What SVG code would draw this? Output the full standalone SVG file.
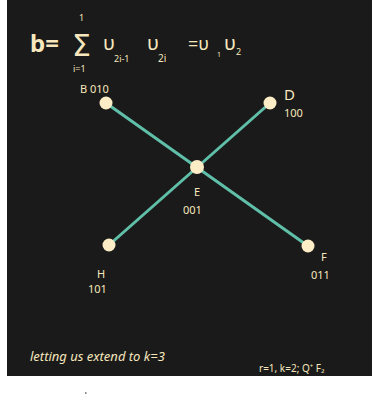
<svg xmlns="http://www.w3.org/2000/svg" width="376" height="395" viewBox="0 0 376 395">
<style>
.t{fill:#f6e7bd;font-family:"Noto Sans",sans-serif}
.e{stroke:#5fbfa8;stroke-width:3;stroke-linecap:round}
.n{fill:#fcedc6}
</style>
<rect width="376" height="395" fill="#ffffff"/>
<rect x="7" y="0" width="365" height="376" fill="#1a1a1a"/>
<g id="formula">
<text class="t" x="30" y="52" font-size="24" font-weight="bold">b=</text>
<text class="t" x="79" y="21" font-size="9">1</text>
<text class="t" x="72" y="56" font-size="30" style="font-family:'DejaVu Sans',sans-serif">Σ</text>
<text class="t" x="73" y="72" font-size="9">i=1</text>
<text class="t" x="103" y="50" font-size="20">υ</text>
<text class="t" x="114" y="62" font-size="9">2i-1</text>
<text class="t" x="147" y="50" font-size="20">υ</text>
<text class="t" x="158" y="62" font-size="10">2i</text>
<text class="t" x="188" y="50" font-size="18">=υ</text>
<text class="t" x="217" y="57" font-size="7">1</text>
<text class="t" x="224" y="50" font-size="20">υ</text>
<text class="t" x="236" y="55" font-size="9">2</text>
</g>
<g id="connectors">
<line class="e" x1="106" y1="103" x2="308" y2="246"/>
<line class="e" x1="270" y1="103" x2="109" y2="245"/>
</g>
<g id="B"><circle class="n" cx="106" cy="103" r="6.5"/><text class="t" x="80" y="93" font-size="11">B  010</text></g>
<g id="D"><circle class="n" cx="270" cy="103" r="6.5"/><text class="t" x="284" y="100" font-size="15">D</text><text class="t" x="284" y="117" font-size="11">100</text></g>
<g id="E"><circle class="n" cx="197" cy="167" r="7"/><text class="t" x="194" y="196" font-size="11">E</text><text class="t" x="183" y="214" font-size="11">001</text></g>
<g id="H"><circle class="n" cx="109" cy="245" r="6.5"/><text class="t" x="97" y="278" font-size="11">H</text><text class="t" x="88" y="293" font-size="11">101</text></g>
<g id="F"><circle class="n" cx="308" cy="246" r="6.5"/><text class="t" x="321" y="261" font-size="11">F</text><text class="t" x="311" y="279" font-size="11">011</text></g>
<text class="t" x="30" y="361" font-size="13" font-style="italic">letting us extend  to k=3</text>
<text class="t" x="259" y="372" font-size="10">r=1, k=2; Q⁺ F₂</text>
<rect x="85" y="392" width="1.5" height="2" fill="#888"/>
</svg>
